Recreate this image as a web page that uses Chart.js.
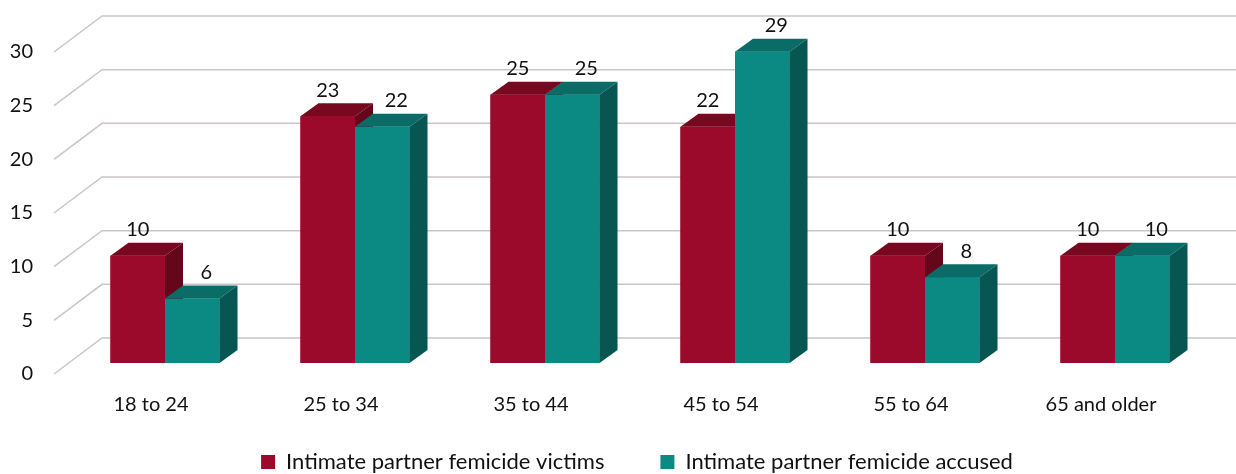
<!DOCTYPE html>
<html>
<head>
<meta charset="utf-8">
<script src="https://cdn.jsdelivr.net/npm/chart.js@4"></script>
<style>
  html, body { margin: 0; padding: 0; background: #fff; }
  #wrap { width: 1236px; height: 474px; }
</style>
</head>
<body>
<div id="wrap"><canvas id="chart" width="1236" height="474"></canvas></div>
<script>
const categories = ['18 to 24', '25 to 34', '35 to 44', '45 to 54', '55 to 64', '65 and older'];
const victims = [10, 23, 25, 22, 10, 10];
const accused = [6, 22, 25, 29, 8, 10];
const seriesNames = ['Intimate partner femicide victims', 'Intimate partner femicide accused'];
const yMin = 0;
const yMax = 30;
const yStep = 5;

// face colours per series: front, top, side
const faces = [
    { front: '#9b0a2b', top: '#78081f', side: '#66061a' },
    { front: '#0b8a84', top: '#0a6c67', side: '#075652' }
];
const DX = 18, DY = 13;          // bar depth
const labelShift = [0, 14];      // excel puts the teal labels a bit right

const fontFamily = 'Lato, "Open Sans", sans-serif';
const LEGEND_PAD = 56;
const LEGEND_H = 22 + LEGEND_PAD + 10;   // font size + padding + 10 (chart.js legend fit)

// back wall + side diagonals for each y tick
const wallPlugin = {
    id: 'wall',
    beforeDatasetsDraw(chart) {
        const ctx = chart.ctx;
        const y = chart.scales.y;
        const a = chart.chartArea;
        ctx.save();
        ctx.strokeStyle = '#cdc4c8';
        ctx.lineWidth = 1.5;
        y.ticks.forEach(t => {
            const py = y.getPixelForValue(t.value);
            ctx.beginPath();
            ctx.moveTo(a.left - 16, py + 11);
            ctx.lineTo(a.left + 32, py - 25);
            ctx.lineTo(chart.width, py - 25);
            ctx.stroke();
        });
        ctx.restore();
    }
};

// redraw bars as boxes, then value labels
const boxPlugin = {
    id: 'box3d',
    afterDatasetsDraw(chart) {
        const ctx = chart.ctx;
        ctx.save();
        chart.data.datasets.forEach((ds, d) => {
            const c = faces[d];
            chart.getDatasetMeta(d).data.forEach(bar => {
                const { x, y, base, width } = bar.getProps(['x', 'y', 'base', 'width'], true);
                const l = x - width / 2, r = x + width / 2;
                ctx.fillStyle = c.front;
                ctx.fillRect(l, y, width, base - y);
                ctx.fillStyle = c.top;
                ctx.beginPath();
                ctx.moveTo(l, y);
                ctx.lineTo(l + DX, y - DY);
                ctx.lineTo(r + DX, y - DY);
                ctx.lineTo(r, y);
                ctx.closePath();
                ctx.fill();
                ctx.fillStyle = c.side;
                ctx.beginPath();
                ctx.moveTo(r, y);
                ctx.lineTo(r + DX, y - DY);
                ctx.lineTo(r + DX, base - DY);
                ctx.lineTo(r, base);
                ctx.closePath();
                ctx.fill();
            });
        });
        ctx.fillStyle = '#111';
        ctx.font = '20px ' + fontFamily;
        ctx.textAlign = 'center';
        ctx.textBaseline = 'middle';
        chart.data.datasets.forEach((ds, d) => {
            chart.getDatasetMeta(d).data.forEach((bar, i) => {
                const { x, y } = bar.getProps(['x', 'y'], true);
                ctx.fillText(String(ds.data[i]), x + labelShift[d], y - 26);
            });
        });
        ctx.restore();
    },
    afterLayout(chart) {
        // let x labels spill under the legend box (they get clipped to the axis box otherwise)
        chart.scales.x.bottom = chart.height;
        // legend a bit lower and to the right, like the original
        const lg = chart.legend;
        lg.top += 9;
        lg.bottom += 9;
        lg.left += 32;
        lg.right += 32;
    }
};

new Chart(document.getElementById('chart'), {
    type: 'bar',
    data: {
        labels: categories,
        datasets: [
            { label: seriesNames[0], data: victims, backgroundColor: faces[0].front, borderWidth: 0 },
            { label: seriesNames[1], data: accused, backgroundColor: faces[1].front, borderWidth: 0 }
        ]
    },
    options: {
        responsive: false,
        animation: false,
        layout: { padding: { top: 27, right: 26, left: 0, bottom: 0 } },
        datasets: { bar: { categoryPercentage: 0.574, barPercentage: 1 } },
        scales: {
            x: {
                grid: { display: false },
                border: { display: false },
                ticks: {
                    color: '#111',
                    font: { family: fontFamily, size: 20 },
                    labelOffset: -14,
                    padding: 22,
                    maxRotation: 0,
                    autoSkip: false
                },
                afterFit(scale) { scale.height = 474 - 363 - LEGEND_H; }
            },
            y: {
                min: yMin,
                max: yMax,
                grid: { display: false },
                border: { display: false },
                ticks: {
                    stepSize: yStep,
                    color: '#111',
                    font: { family: fontFamily, size: 20 },
                    labelOffset: 11,
                    padding: 29
                },
                afterFit(scale) { scale.width = 70; }
            }
        },
        plugins: {
            legend: {
                position: 'bottom',
                labels: {
                    color: '#111',
                    font: { family: fontFamily, size: 22 },
                    boxWidth: 14,
                    boxHeight: 14,
                    padding: LEGEND_PAD
                }
            },
            tooltip: { enabled: false }
        }
    },
    plugins: [wallPlugin, boxPlugin]
});
</script>
</body>
</html>
